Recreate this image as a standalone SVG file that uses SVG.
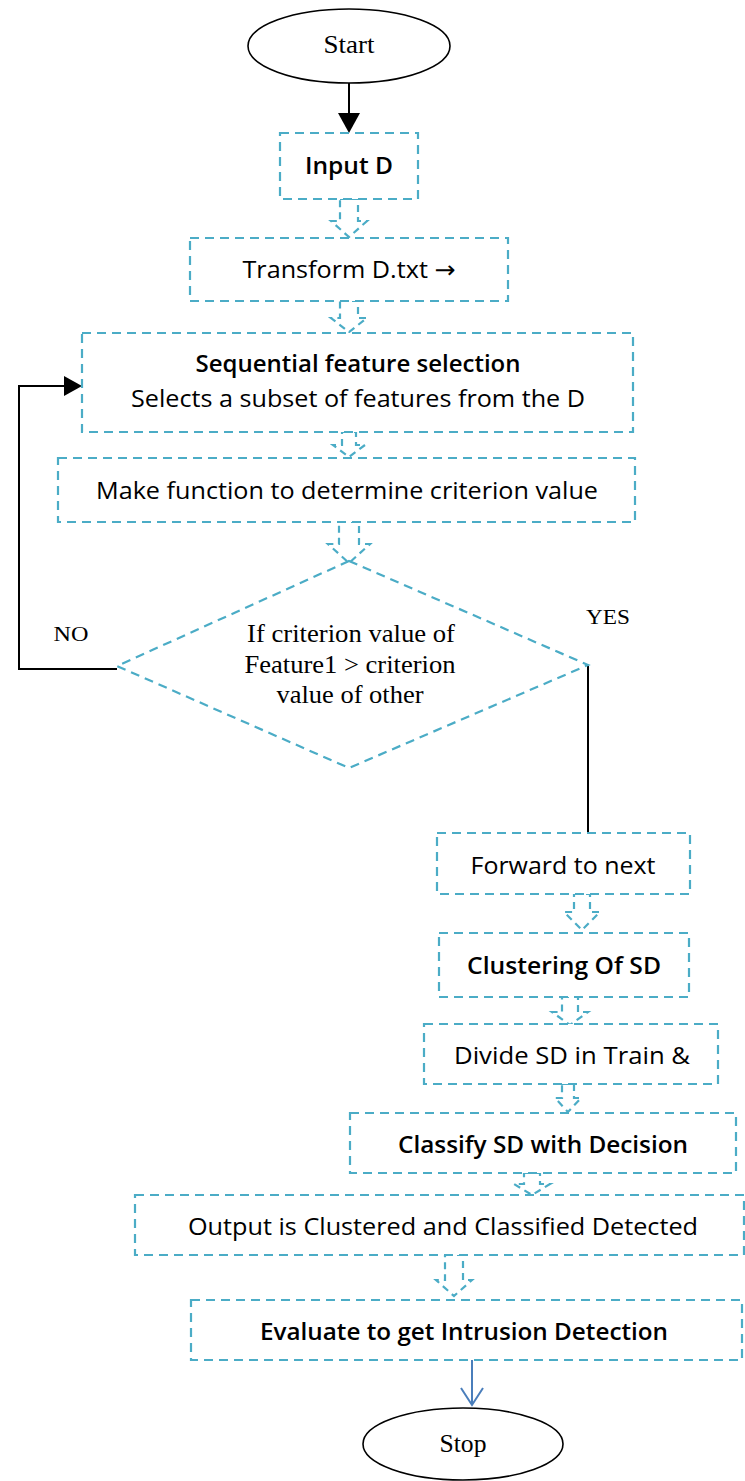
<svg xmlns="http://www.w3.org/2000/svg" width="745" height="1481" viewBox="0 0 745 1481">
<style>
.box{fill:#fff;stroke:#4bacc6;stroke-width:2.2;stroke-dasharray:9 6}
.ba{fill:#fff;stroke:#4bacc6;stroke-width:2.2;stroke-dasharray:7 5}
.term{fill:#fff;stroke:#000;stroke-width:1.6}
.s{font-family:"Open Sans","Noto Sans","DejaVu Sans",sans-serif;font-size:24px;fill:#000;text-anchor:middle}
.b{font-weight:600}
.t{font-family:"Liberation Serif","Times New Roman",serif;font-size:25px;fill:#000;text-anchor:middle}
.conn{fill:none;stroke:#000;stroke-width:2}
</style>

<g id="connectors">
<line class="conn" x1="349" y1="82" x2="349" y2="115"/>
<path d="M338,113 L349,133 L360,113 Z" fill="#000"/>
<polyline class="conn" points="117,669 19,669 19,386 66,386"/>
<path d="M64,376 L82,386 L64,396 Z" fill="#000"/>
<polyline class="conn" points="588,666 588,833" stroke-width="1.6"/>
<line x1="472" y1="1360" x2="472" y2="1404" stroke="#4a7ebb" stroke-width="2"/>
<polyline points="461,1388 472,1405 483,1388" fill="none" stroke="#4a7ebb" stroke-width="2"/>
<path class="ba" d="M340,199 H358 V221 H367 L349,237 L331,221 H340 Z"/>
<path class="ba" d="M340,301 H358 V318 H367 L349,332 L331,318 H340 Z"/>
<path class="ba" d="M342,432 H356 V445 H365 L349,457 L333,445 H342 Z"/>
<path class="ba" d="M339,522 H359 V544 H370 L349,563 L328,544 H339 Z"/>
<path class="ba" d="M574,894 H590 V912 H600 L582,930 L564,912 H574 Z"/>
<path class="ba" d="M562,997 H578 V1012 H588 L570,1025 L552,1012 H562 Z"/>
<path class="ba" d="M562,1084 H574 V1098 H581 L568,1112 L555,1098 H562 Z"/>
<path class="ba" d="M524,1173 H540 V1184 H550 L532,1195 L514,1184 H524 Z"/>
<path class="ba" d="M445,1255 H463 V1280 H472 L454,1296 L436,1280 H445 Z"/>
</g>

<g id="start">
<ellipse class="term" cx="349" cy="46" rx="101" ry="37"/>
<text class="t" x="349" y="53" textLength="51" lengthAdjust="spacingAndGlyphs">Start</text>
</g>

<g id="inputD">
<rect class="box" x="280" y="133" width="138" height="66"/>
<text class="s b" x="349" y="174" textLength="88" lengthAdjust="spacingAndGlyphs">Input D</text>
</g>

<g id="transform">
<rect class="box" x="190" y="238" width="318" height="63"/>
<text class="s" x="349" y="278" textLength="213" lengthAdjust="spacingAndGlyphs">Transform D.txt →</text>
</g>

<g id="sequential">
<rect class="box" x="82" y="333" width="551" height="99"/>
<text class="s b" x="358" y="372" textLength="325" lengthAdjust="spacingAndGlyphs">Sequential feature selection</text>
<text class="s" x="358" y="407" textLength="454" lengthAdjust="spacingAndGlyphs">Selects a subset of features from the D</text>
</g>

<g id="makefunction">
<rect class="box" x="58" y="458" width="577" height="64"/>
<text class="s" x="347" y="499" textLength="502" lengthAdjust="spacingAndGlyphs">Make function to determine criterion value</text>
</g>

<g id="decision">
<polygon class="box" points="349,561 588,665 349,768 117,666"/>
<text class="t" x="351" y="642" textLength="208" lengthAdjust="spacingAndGlyphs">If criterion value of</text>
<text class="t" x="350" y="673" textLength="211" lengthAdjust="spacingAndGlyphs">Feature1 &gt; criterion</text>
<text class="t" x="350" y="703" textLength="147" lengthAdjust="spacingAndGlyphs">value of other</text>
</g>

<g id="labels">
<text class="t" x="71" y="641" style="font-size:21px" textLength="35" lengthAdjust="spacingAndGlyphs">NO</text>
<text class="t" x="608" y="624" style="font-size:21px" textLength="44" lengthAdjust="spacingAndGlyphs">YES</text>
</g>

<g id="forward">
<rect class="box" x="437" y="833" width="253" height="61"/>
<text class="s" x="563" y="874" textLength="185" lengthAdjust="spacingAndGlyphs">Forward to next</text>
</g>

<g id="clustering">
<rect class="box" x="439" y="933" width="250" height="64"/>
<text class="s b" x="564" y="974" textLength="194" lengthAdjust="spacingAndGlyphs">Clustering Of SD</text>
</g>

<g id="divide">
<rect class="box" x="424" y="1024" width="294" height="60"/>
<text class="s" x="572" y="1064" textLength="236" lengthAdjust="spacingAndGlyphs">Divide SD in Train &amp;</text>
</g>

<g id="classify">
<rect class="box" x="350" y="1113" width="386" height="60"/>
<text class="s b" x="543" y="1153" textLength="290" lengthAdjust="spacingAndGlyphs">Classify SD with Decision</text>
</g>

<g id="output">
<rect class="box" x="135" y="1195" width="609" height="60"/>
<text class="s" x="443" y="1235" textLength="510" lengthAdjust="spacingAndGlyphs">Output is Clustered and Classified Detected</text>
</g>

<g id="evaluate">
<rect class="box" x="191" y="1300" width="551" height="60"/>
<text class="s b" x="464" y="1340" textLength="408" lengthAdjust="spacingAndGlyphs">Evaluate to get Intrusion Detection</text>
</g>

<g id="stop">
<ellipse class="term" cx="463" cy="1444" rx="100" ry="36"/>
<text class="t" x="463" y="1452" textLength="47" lengthAdjust="spacingAndGlyphs">Stop</text>
</g>
</svg>
